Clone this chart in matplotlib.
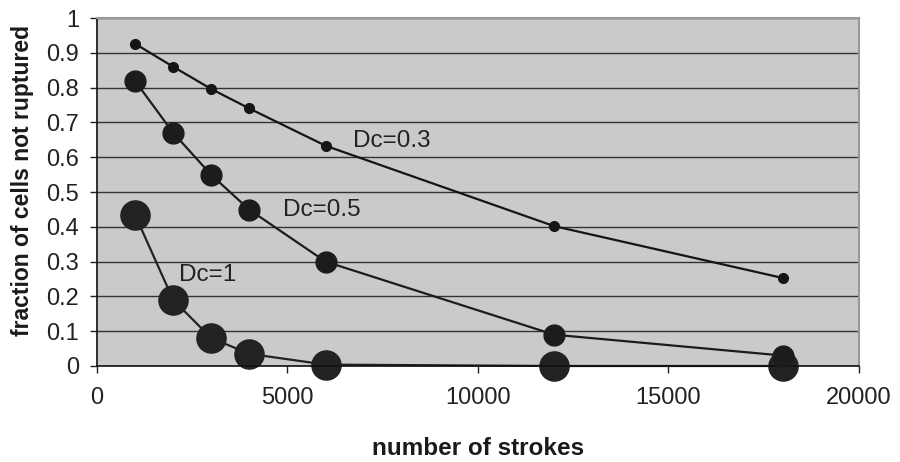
import matplotlib.pyplot as plt

plt.rcParams['font.family'] = ['Liberation Sans', 'DejaVu Sans']

strokes = [1000, 2000, 3000, 4000, 6000, 12000, 18000]
dc03 = [0.926, 0.860, 0.796, 0.740, 0.633, 0.402, 0.253]
dc05 = [0.819, 0.670, 0.549, 0.449, 0.300, 0.090, 0.030]
dc1 = [0.434, 0.190, 0.080, 0.035, 0.004, 0.0, 0.0]

fig = plt.figure(figsize=(9, 4.62), dpi=100)
ax = fig.add_axes([0.1078, 0.2078, 0.8464, 0.7532])
ax.set_facecolor('#c9cacc')

ax.plot(strokes, dc03, '-o', color='#151515', lw=1.6, ms=7, zorder=3, clip_on=False)
ax.plot(strokes, dc05, '-o', color='#1c1c1c', lw=1.6, ms=15, zorder=3, clip_on=False)
ax.plot(strokes, dc1, '-o', color='#222222', lw=1.6, ms=21, zorder=2, clip_on=False)

# curve labels
ax.text(6720, 0.629, 'Dc=0.3', fontsize=17.5, color='#222222', va='baseline')
ax.text(4880, 0.431, 'Dc=0.5', fontsize=17.5, color='#222222', va='baseline')
ax.text(2150, 0.244, 'Dc=1', fontsize=17.5, color='#222222', va='baseline')

ax.set_xlim(0, 20000)
ax.set_ylim(0, 1)
ax.set_xticks([0, 5000, 10000, 15000, 20000])
ax.set_yticks([i / 10 for i in range(11)])
ax.set_yticklabels(['0', '0.1', '0.2', '0.3', '0.4', '0.5', '0.6', '0.7', '0.8', '0.9', '1'])
ax.yaxis.grid(True, color='#333333', lw=1)
ax.set_axisbelow(True)
ax.tick_params(direction='out', length=5, labelsize=17, colors='#222222', width=1)
ax.tick_params(axis='x', pad=10)
ax.tick_params(axis='y', pad=8)

for s in ['top', 'right']:
    ax.spines[s].set_color('#999999')
    ax.spines[s].set_linewidth(1.5)
for s in ['left', 'bottom']:
    ax.spines[s].set_color('#111111')
    ax.spines[s].set_linewidth(1.2)

ax.set_xlabel('number of strokes', fontsize=17.5, fontweight='bold', color='#1a1a1a')
ax.xaxis.label.set_va('baseline')
ax.xaxis.set_label_coords(0.5, -(455 - 366) / 348)
ax.set_ylabel('fraction of cells not ruptured', fontsize=16.5, fontweight='bold', color='#1a1a1a')
ax.yaxis.label.set_va('center')
ax.yaxis.set_label_coords(-(97 - 22) / 762, (366 - 180) / 348)

fig.savefig('out.png', dpi=100)
